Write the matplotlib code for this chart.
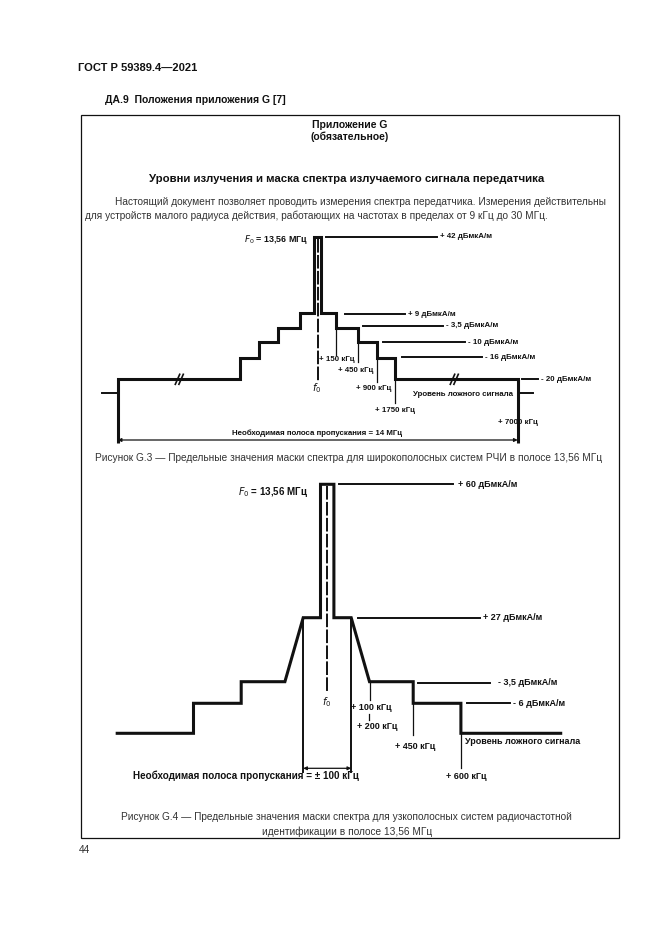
import matplotlib
matplotlib.use("Agg")
import matplotlib.pyplot as plt
from matplotlib import font_manager as fm
from matplotlib.patches import Rectangle

# ---------------- data ----------------
# Figure G.3 (wideband RFID, 13,56 MHz)
g3_levels_db = [42, 9, -3.5, -10, -16, -20]
g3_level_labels = ["+ 42 дБмкА/м", "+ 9 дБмкА/м", "- 3,5 дБмкА/м",
                   "- 10 дБмкА/м", "- 16 дБмкА/м", "- 20 дБмкА/м"]
g3_offsets_khz = [150, 450, 900, 1750, 7000]
g3_offset_labels = ["+ 150 кГц", "+ 450 кГц", "+ 900 кГц", "+ 1750 кГц", "+ 7000 кГц"]
g3_bandwidth_label = "Необходимая полоса пропускания = 14 МГц"

# Figure G.4 (narrowband RFID, 13,56 MHz)
g4_levels_db = [60, 27, -3.5, -6]
g4_level_labels = ["+ 60 дБмкА/м", "+ 27 дБмкА/м", "- 3,5 дБмкА/м", "- 6 дБмкА/м"]
g4_offsets_khz = [100, 200, 450, 600]
g4_offset_labels = ["+ 100 кГц", "+ 200 кГц", "+ 450 кГц", "+ 600 кГц"]
g4_bandwidth_label = "Необходимая полоса пропускания = ± 100 кГц"

carrier_label = " = 13,56 МГц"
spurious_label = "Уровень ложного сигнала"

# ---------------- schematic layout (not to scale) ----------------
# G.3: vertical position of each level, horizontal half-offset of each frequency
G3_CX, G3_BOTTOM = 317.7, 443
G3_Y = {42: 236.7, 9: 312.7, -3.5: 327.7, -10: 341.7, -16: 357.7, -20: 379.3}
G3_X = {0: 3.4, 150: 18.0, 450: 40.0, 900: 59.0, 1750: 77.3, 7000: 200.0}
# G.4
G4_CX = 327.2
G4_Y = {60: 484.3, 27: 617.7, -3.5: 681.7, -6: 703.3, "spur": 733.3}
G4_X = {"rect": 6.7, "bw": 24.0, 100: 42.3, 450: 86.0, 600: 133.7}
G4_END_L, G4_END_R = 210.0, 233.5

avail = {f.name for f in fm.fontManager.ttflist}
SANS = "Liberation Sans" if "Liberation Sans" in avail else "DejaVu Sans"
NARROW = "Liberation Sans Narrow" if "Liberation Sans Narrow" in avail else SANS

W, H = 661, 935
fig = plt.figure(figsize=(W / 100, H / 100), dpi=100)
ax = fig.add_axes([0, 0, 1, 1])
ax.set_xlim(0, W)
ax.set_ylim(H, 0)
ax.axis("off")

K = "#111111"
G = "#333333"
THICK, MID, THIN = 2.2, 1.4, 0.9


def t(x, y, s, size, weight="normal", ha="left", color=K, family=None, **kw):
    ax.text(x, y, s, fontsize=size, fontweight=weight, ha=ha, va="center",
            color=color, family=family or SANS, **kw)


# ---------------- page text ----------------
t(78, 68, "ГОСТ Р 59389.4—2021", 8.0, "bold")
t(105, 100, "ДА.9  Положения приложения G [7]", 7.45, "bold")
ax.add_patch(Rectangle((81, 115), 538, 723, fill=False, lw=0.9, ec=K))
t(350, 124.5, "Приложение G", 7.5, "bold", ha="center")
t(350, 136.5, "(обязательное)", 7.5, "bold", ha="center")
t(347, 179, "Уровни излучения и маска спектра излучаемого сигнала передатчика",
  8.2, "bold", ha="center")
t(115, 202, "Настоящий документ позволяет проводить измерения спектра передатчика. "
  "Измерения действительны", 7.25, color=G)
t(85, 216, "для устройств малого радиуса действия, работающих на частотах в пределах "
  "от 9 кГц до 30 МГц.", 7.3, color=G)
t(79, 850, "44", 7.3, color=G)

# ---------------- Figure G.3 ----------------
# outline of mask: right half built from levels/offsets, left half mirrored
edges = [G3_X[0]] + [G3_X[k] for k in g3_offsets_khz]
half = []
prev = 0.0
for i, db in enumerate(g3_levels_db):
    half.append((prev, G3_Y[db]))
    half.append((edges[i], G3_Y[db]))
    prev = edges[i]
right = [(G3_CX + dx, y) for dx, y in half] + [(G3_CX + edges[-1], G3_BOTTOM)]
left = [(G3_CX - dx, y) for dx, y in reversed(half)]
left = [(G3_CX - edges[-1], G3_BOTTOM)] + left
pts = left + right
ax.plot([p[0] for p in pts], [p[1] for p in pts], color=K, lw=THICK,
        solid_joinstyle="miter", solid_capstyle="butt")
# center dashed line
ax.plot([G3_CX, G3_CX], [G3_Y[42] + 2, 381.5], color=K, lw=MID,
        dashes=(7, 1.2))
ax.text(G3_CX - 1, 388.5, "$f_0$", fontsize=7, ha="center", va="center", color=K)
# outer short stubs
stub_y = 393
ax.plot([G3_CX - edges[-1] - 16, G3_CX - edges[-1]], [stub_y, stub_y], color=K, lw=MID)
ax.plot([G3_CX + edges[-1], G3_CX + edges[-1] + 15.5], [stub_y, stub_y], color=K, lw=MID)
# break marks
for bx in (179.3, 454.3):
    for d in (-1.8, 1.8):
        ax.plot([bx + d - 2.2, bx + d + 2.2], [G3_Y[-20] + 5, G3_Y[-20] - 5],
                color=K, lw=1.2)
# level reference lines with labels
g3_line_spans = {42: (326, 436.7, 236.7), 9: (345, 405, 314.3), -3.5: (363, 443, 325.7),
                 -10: (383, 465, 342.3), -16: (401.7, 481.7, 357.3),
                 -20: (521.7, 538, 379.3)}
for db, lab in zip(g3_levels_db, g3_level_labels):
    x0, x1, y = g3_line_spans[db]
    ax.plot([x0, x1], [y, y], color=K, lw=MID)
    t(x1 + 3, y, lab, 5.7, "bold", family=NARROW)
# frequency markers
g3_marker_ends = {150: 355, 450: 362, 900: 382, 1750: 403, 7000: None}
g3_label_y = {150: 359.5, 450: 370.7, 900: 389, 1750: 410, 7000: 422}
g3_label_dx = {150: 1.0, 450: -2.0, 900: -3.0, 1750: 0.0, 7000: 0.0}
for i, (khz, lab) in enumerate(zip(g3_offsets_khz, g3_offset_labels)):
    x = G3_CX + G3_X[khz]
    if g3_marker_ends[khz] is not None:
        ax.plot([x, x], [G3_Y[g3_levels_db[i + 1]], g3_marker_ends[khz]], color=K, lw=THIN)
    t(x + g3_label_dx[khz], g3_label_y[khz], lab, 5.7, "bold", ha="center",
      family=NARROW)
t(308, 240, "$F_0$" + carrier_label, 6.4, "bold", ha="right", family=NARROW)
t(413, 395, spurious_label, 5.7, "bold", family=NARROW)
# bandwidth arrow
ax.annotate("", xy=(G3_CX - edges[-1], 440), xytext=(G3_CX + edges[-1], 440),
            arrowprops=dict(arrowstyle="<|-|>", lw=0.9, color=K, mutation_scale=5,
                            shrinkA=0, shrinkB=0))
t(317, 433.5, g3_bandwidth_label, 5.7, "bold", ha="center", family=NARROW)
t(349, 458, "Рисунок G.3 — Предельные значения маски спектра для широкополосных "
  "систем РЧИ в полосе 13,56 МГц", 7.3, ha="center", color=G)

# ---------------- Figure G.4 ----------------
c = G4_CX
xr = lambda d: c + d
xl = lambda d: c - d
outline_x = [xl(G4_END_L), xl(G4_X[600]), xl(G4_X[600]), xl(G4_X[450]), xl(G4_X[450]),
             xl(G4_X[100]), xl(G4_X["bw"]), xl(G4_X["rect"]), xl(G4_X["rect"]),
             xr(G4_X["rect"]), xr(G4_X["rect"]), xr(G4_X["bw"]), xr(G4_X[100]),
             xr(G4_X[450]), xr(G4_X[450]), xr(G4_X[600]), xr(G4_X[600]), xr(G4_END_R)]
outline_y = [G4_Y["spur"], G4_Y["spur"], G4_Y[-6], G4_Y[-6], G4_Y[-3.5],
             G4_Y[-3.5], G4_Y[27], G4_Y[27], G4_Y[60],
             G4_Y[60], G4_Y[27], G4_Y[27], G4_Y[-3.5],
             G4_Y[-3.5], G4_Y[-6], G4_Y[-6], G4_Y["spur"], G4_Y["spur"]]
ax.plot(outline_x, outline_y, color=K, lw=THICK, solid_joinstyle="miter")
# bandwidth verticals and arrow
bw_y = 768.3
for xx in (xl(G4_X["bw"]), xr(G4_X["bw"])):
    ax.plot([xx, xx], [G4_Y[27], 772], color=K, lw=MID)
ax.annotate("", xy=(xl(G4_X["bw"]), bw_y), xytext=(xr(G4_X["bw"]), bw_y),
            arrowprops=dict(arrowstyle="<|-|>", lw=0.9, color=K, mutation_scale=5,
                            shrinkA=0, shrinkB=0))
t(246, 775.5, g4_bandwidth_label, 7.1, "bold", ha="center", family=NARROW)
# center dashed line
ax.plot([c - 0.5, c - 0.5], [G4_Y[60] + 2, 693], color=K, lw=MID, dashes=(7, 1.2))
ax.text(c - 0.5, 701.7, "$f_0$", fontsize=7, ha="center", va="center", color=K)
t(308, 491.7, "$F_0$" + carrier_label, 7.0, "bold", ha="right", family=NARROW)
# level reference lines
g4_line_spans = {60: (339, 453, 484.3), 27: (357.7, 480, 617.7),
                 -3.5: (418.3, 490, 682.7), -6: (466.7, 510, 703.3)}
g4_label_gap = {60: 5, 27: 3, -3.5: 8, -6: 3}
for db, lab in zip(g4_levels_db, g4_level_labels):
    x0, x1, y = g4_line_spans[db]
    ax.plot([x0, x1], [y, y], color=K, lw=MID)
    t(x1 + g4_label_gap[db], y, lab, 6.5, "bold", family=NARROW)
# frequency markers
x100 = xr(G4_X[100])
ax.plot([x100, x100], [G4_Y[-3.5], 700], color=K, lw=THIN)
t(371.7, 707.3, g4_offset_labels[0], 6.5, "bold", ha="center", family=NARROW)
ax.plot([x100 - 1, x100 - 1], [714, 720], color=K, lw=THIN)
t(377.5, 726.7, g4_offset_labels[1], 6.5, "bold", ha="center", family=NARROW)
x450 = xr(G4_X[450])
ax.plot([x450, x450], [G4_Y[-6], 735], color=K, lw=THIN)
t(415.5, 746.7, g4_offset_labels[2], 6.5, "bold", ha="center", family=NARROW)
x600 = xr(G4_X[600])
ax.plot([x600, x600], [G4_Y["spur"], 768], color=K, lw=THIN)
t(466.7, 776.7, g4_offset_labels[3], 6.5, "bold", ha="center", family=NARROW)
t(465, 741.7, spurious_label, 6.5, "bold", family=NARROW)
t(346.7, 816.7, "Рисунок G.4 — Предельные значения маски спектра для узкополосных "
  "систем радиочастотной", 7.3, ha="center", color=G)
t(346.7, 831.7, "идентификации в полосе 13,56 МГц", 7.3, ha="center", color=G)

fig.savefig("out.png", dpi=100, facecolor="white")
